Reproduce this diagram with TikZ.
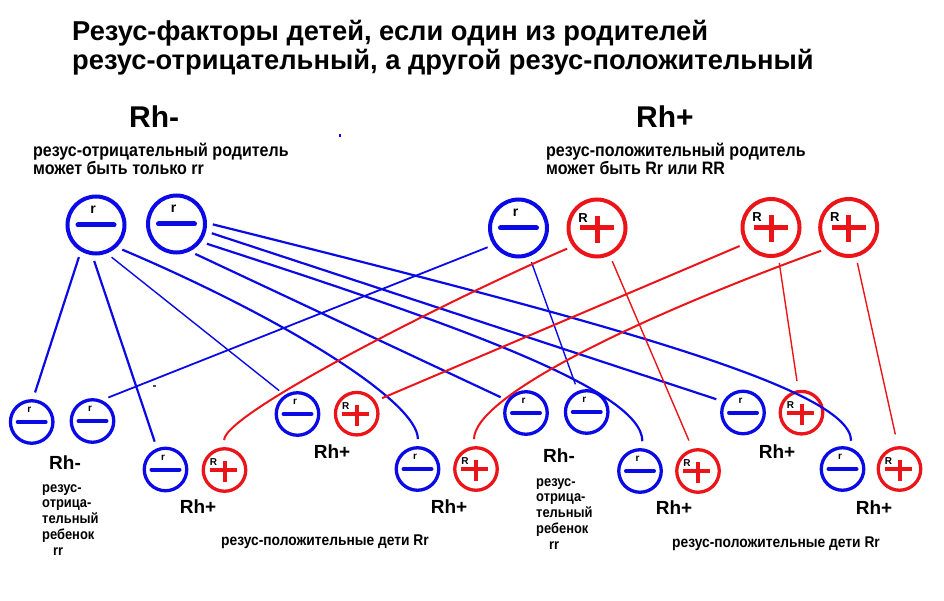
\documentclass[tikz,border=0pt]{standalone}
\usepackage{fontspec}
\setmainfont{Liberation Sans}
\newfontfamily\narrowfont[FakeStretch=0.89]{Liberation Sans}
\definecolor{rhblue}{RGB}{10,10,230}
\definecolor{rhred}{RGB}{235,20,25}
\begin{document}
\begin{tikzpicture}[x=1pt, y=-1pt,
    pneg/.style={circle, draw=rhblue, line width=4pt, minimum size=57pt, inner sep=0pt,
      path picture={\draw[rhblue, line width=5pt, line cap=round]
        ([xshift=-18pt]path picture bounding box.center) -- ([xshift=18pt]path picture bounding box.center);},
      label={[font=\bfseries\fontsize{14}{14}\selectfont, xshift=-3pt, yshift=15pt]center:r}},
    ppos/.style={circle, draw=rhred, line width=4pt, minimum size=57pt, inner sep=0pt,
      path picture={\draw[rhred, line width=5pt]
        ([xshift=-17pt]path picture bounding box.center) -- ([xshift=17pt]path picture bounding box.center)
        ([yshift=12pt]path picture bounding box.center) -- ([yshift=-15pt]path picture bounding box.center);},
      label={[font=\bfseries\fontsize{13}{13}\selectfont, xshift=-14pt, yshift=10pt]center:R}},
    kneg/.style={circle, draw=rhblue, line width=3.3pt, minimum size=42.5pt, inner sep=0pt,
      path picture={\draw[rhblue, line width=4pt, line cap=round]
        ([xshift=-14pt]path picture bounding box.center) -- ([xshift=14pt]path picture bounding box.center);},
      label={[font=\bfseries\fontsize{10}{10}\selectfont, xshift=-2.5pt, yshift=12pt]center:r}},
    kpos/.style={circle, draw=rhred, line width=3.3pt, minimum size=42.5pt, inner sep=0pt,
      path picture={\draw[rhred, line width=4pt]
        ([xshift=-15pt]path picture bounding box.center) -- ([xshift=12pt]path picture bounding box.center)
        ([yshift=9pt]path picture bounding box.center) -- ([yshift=-12pt]path picture bounding box.center);},
      label={[font=\bfseries\fontsize{10}{10}\selectfont, xshift=-11pt, yshift=8pt]center:R}},
    bline/.style={rhblue, line width=2.2pt, shorten <=6pt, shorten >=7pt},
    bthin/.style={bline, line width=1.4pt},
    rline/.style={rhred, line width=2pt, shorten <=6pt, shorten >=7pt},
    rthin/.style={rline, line width=1.4pt},
    head/.style={anchor=base west, inner sep=0pt, font=\bfseries\fontsize{27.3}{27.3}\selectfont},
    rhbig/.style={anchor=base west, inner sep=0pt, font=\bfseries\fontsize{30}{30}\selectfont},
    rhkid/.style={anchor=base, font=\bfseries\fontsize{19}{19}\selectfont},
    note/.style={anchor=base west, inner sep=0pt, font=\narrowfont\bfseries\fontsize{18}{18}\selectfont},
    kidnote/.style={anchor=north west, align=left, inner sep=0pt,
      font=\narrowfont\bfseries\fontsize{14.5}{15.8}\selectfont},
    kidsum/.style={anchor=base, font=\narrowfont\bfseries\fontsize{15.5}{15.5}\selectfont}]
    \useasboundingbox (0,0) rectangle (944,601);
    % 1. заголовок
    \node[head] (title1) at (72,41) {Резус-факторы детей, если один из родителей};
    \node[head] (title2) at (72,70) {резус-отрицательный, а другой резус-положительный};
    % 2. подписи родителей
    \node[rhbig] (negtitle) at (129,128) {Rh-};
    \node[rhbig] (postitle) at (636,128) {Rh+};
    \node[note] (negnote1) at (33,157) {резус-отрицательный родитель};
    \node[note] (negnote2) at (33,175) {может быть только rr};
    \node[note] (posnote1) at (546,157) {резус-положительный родитель};
    \node[note] (posnote2) at (546,175) {может быть Rr или RR};
    \fill[rhblue] (339,134) rectangle (341,137);
    % 3. родители
    \node[pneg] (pa) at (96,225) {};
    \node[pneg] (pb) at (176.5,224) {};
    \node[pneg] (pc) at (518.5,228) {};
    \node[ppos] (pd) at (597,228) {};
    \node[ppos] (pe) at (771,227.5) {};
    \node[ppos] (pf) at (848.7,227.5) {};
    % 4. дети
    \node[kneg] (c1a) at (31.7,422) {};
    \node[kneg] (c1b) at (92.5,421) {};
    \node[kneg] (c2a) at (165.5,469.5) {};
    \node[kpos] (c2b) at (224.5,470) {};
    \node[kneg] (c3a) at (297.5,414) {};
    \node[kpos] (c3b) at (356.7,413.7) {};
    \node[kneg] (c4a) at (417.5,469) {};
    \node[kpos] (c4b) at (476,469) {};
    \node[kneg] (c5a) at (526,413) {};
    \node[kneg] (c5b) at (586.7,412) {};
    \node[kneg] (c6a) at (640,471) {};
    \node[kpos] (c6b) at (698,471) {};
    \node[kneg] (c7a) at (743,412.5) {};
    \node[kpos] (c7b) at (801.5,412.7) {};
    \node[kneg] (c8a) at (842.5,469) {};
    \node[kpos] (c8b) at (899.5,469) {};
    % 5. линии от резус-отрицательного родителя
    \draw[bline] (pa.-120) -- (c1a.87);
    \draw[bline] (pa.-97) -- (c2a.112);
    \draw[bthin] (pa.-69) -- (c3a.124);
    \draw[bline] (pa.-47) to[out=-23, in=90, out distance=180pt, in distance=45pt] (c4a.89);
    \draw[bline] (pb.2) to[out=-14, in=90, out distance=400pt, in distance=60pt] (c8a.68);
    \draw[bline] (pb.-14) -- (c7a.151);
    \draw[bline] (pb.-36) to[out=-18, in=90, out distance=250pt, in distance=60pt] (c6a.84);
    \draw[bline] (pb.-64) -- (c5a.146);
    % 6. линии от резус-положительного родителя
    \draw[bline, line width=1.8pt] (pc.-146) -- (c1b.66);
    \draw[bthin] (pc.-69) -- (c5b.113);
    \draw[rline] (pd.-143) to[out=-157, in=90, out distance=110pt, in distance=35pt] (c2b.91);
    \draw[rthin, shorten >=9pt] (pd.-65) -- (c6b.104);
    \draw[rline] (pe.-148) -- (c3b.34);
    \draw[rthin, shorten >=9pt] (pe.-76) -- (c7b.98);
    \draw[rline] (pf.-136) to[out=-160, in=90, out distance=200pt, in distance=50pt] (c4b.95);
    \draw[rthin, shorten >=12pt] (pf.-76) -- (c8b.94);
    % 7. подписи детей
    \node[rhkid] (kid1) at (65,469) {Rh-};
    \node[rhkid] (kid2) at (198,513) {Rh+};
    \node[rhkid] (kid3) at (332,458) {Rh+};
    \node[rhkid] (kid4) at (449,513) {Rh+};
    \node[rhkid] (kid5) at (559,462) {Rh-};
    \node[rhkid] (kid6) at (674,514) {Rh+};
    \node[rhkid] (kid7) at (777,458) {Rh+};
    \node[rhkid] (kid8) at (874,514) {Rh+};
    \node[kidnote] (negkid1) at (42,484) {резус-\\отрица-\\тельный\\ребенок\\\hspace*{11pt}rr};
    \node[kidnote] (negkid2) at (536,478) {резус-\\отрица-\\тельный\\ребенок\\\hspace*{13pt}rr};
    \node[kidsum] (poskids1) at (325,545) {резус-положительные дети Rr};
    \node[kidsum] (poskids2) at (776,547) {резус-положительные дети Rr};
    \fill[black!70] (153,385) rectangle (156,386.5);
\end{tikzpicture}
\end{document}
